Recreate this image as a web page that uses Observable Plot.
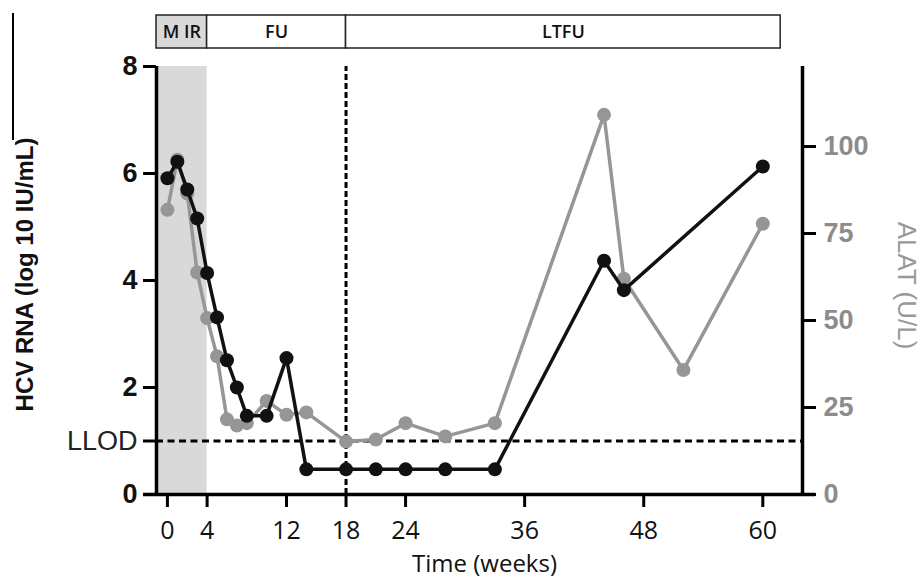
<!DOCTYPE html>
<html>
<head>
<meta charset="utf-8">
<script src="https://cdn.jsdelivr.net/npm/d3@7"></script>
<script src="https://cdn.jsdelivr.net/npm/@observablehq/plot@0.6"></script>
<style>
  html, body { margin: 0; padding: 0; background: #fff; }
  #wrap { position: relative; width: 922px; height: 579px; overflow: hidden; }
  #wrap svg { display: block; }
  #stray { position: absolute; left: 12px; top: 13px; width: 1.5px; height: 127px; background: #000; }
</style>
</head>
<body>
<div id="wrap"><div id="stray"></div></div>
<script>
// ---- data ----
const phaseNames = ["M IR", "FU", "LTFU"];
const phaseStart = [-1.1, 4, 18];
const phaseEnd = [4, 18, 61.8];

const hcvWeeks = [0, 1, 2, 3, 4, 5, 6, 7, 8, 10, 12, 14, 18, 21, 24, 28, 33, 44, 46, 60];
const hcvValues = [5.91, 6.22, 5.70, 5.16, 4.14, 3.31, 2.51, 2.00, 1.47, 1.47, 2.55, 0.47, 0.47, 0.47, 0.47, 0.47, 0.47, 4.37, 3.82, 6.13];

const alatWeeks = [0, 1, 2, 3, 4, 5, 6, 7, 8, 10, 12, 14, 18, 21, 24, 28, 33, 44, 46, 52, 60];
const alatValues = [81.8, 96.2, 86.5, 63.8, 50.7, 39.7, 21.6, 19.8, 20.5, 26.9, 22.9, 23.6, 15.2, 15.8, 20.5, 16.7, 20.5, 109.1, 62.0, 35.8, 77.8];

const xTicks = [0, 4, 12, 18, 24, 36, 48, 60];
const yTicks = [0, 2, 4, 6, 8];
const llod = 1;
const llodLabel = "LLOD";
const alatTicks = [0, 25, 50, 75, 100];

const xDomain = [-1.1, 64];
const yDomain = [0, 8];
const alatTop = 123; // ALAT value level with the top of the left axis

// ---- derived tables ----
const phases = phaseNames.map((n, i) => ({name: n, start: phaseStart[i], end: phaseEnd[i]}));
const hcv = hcvWeeks.map((w, i) => ({week: w, v: hcvValues[i]}));
const k = yDomain[1] / alatTop;
const alat = alatWeeks.map((w, i) => ({week: w, v: alatValues[i] * k}));
const mir = phases[0];
const fuEnd = phases[1].end;

const W = 922, ML = 156, MR = 120;
const sans = "'Liberation Sans', Arial, sans-serif";
const human = "'Open Sans', 'Noto Sans', sans-serif";
const GRAY = "#969696";
const LABELGRAY = "#8c8c8c";

// ---- phase bar ----
const bar = Plot.plot({
  width: W, height: 50,
  marginLeft: ML, marginRight: MR, marginTop: 15, marginBottom: 2,
  x: {domain: xDomain, axis: null},
  y: {domain: [0, 1], axis: null},
  style: {overflow: "visible", background: "transparent"},
  marks: [
    Plot.rect(phases, {x1: "start", x2: "end", y1: 0, y2: 1,
      fill: (d, i) => i === 0 ? "#d9d9d9" : "#fff", stroke: "#222", strokeWidth: 1.5}),
    Plot.text(phases, {x: d => (d.start + d.end) / 2, y: 0.5, text: "name",
      fontFamily: human, fontSize: 18, fontWeight: 600, fill: "#111"})
  ]
});

// ---- main chart ----
const chart = Plot.plot({
  width: W, height: 529,
  marginLeft: ML, marginRight: MR, marginTop: 16, marginBottom: 85,
  x: {domain: xDomain},
  y: {domain: yDomain},
  style: {overflow: "visible", background: "transparent"},
  marks: [
    Plot.rect([mir], {x1: "start", x2: "end", y1: yDomain[0], y2: yDomain[1], fill: "#d9d9d9"}),
    Plot.ruleY([llod], {stroke: "#000", strokeWidth: 3, strokeDasharray: "7,4.5"}),
    Plot.ruleX([fuEnd], {y1: yDomain[0], y2: yDomain[1], stroke: "#000", strokeWidth: 3, strokeDasharray: "6,3"}),
    Plot.line(alat, {x: "week", y: "v", stroke: GRAY, strokeWidth: 3.5}),
    Plot.dot(alat, {x: "week", y: "v", r: 7, fill: GRAY}),
    Plot.line(hcv, {x: "week", y: "v", stroke: "#111", strokeWidth: 3.5}),
    Plot.dot(hcv, {x: "week", y: "v", r: 7, fill: "#111"}),
    // axis lines
    Plot.ruleX([xDomain[0]], {y1: yDomain[0], y2: yDomain[1], stroke: "#000", strokeWidth: 3.5}),
    Plot.ruleX([xDomain[1]], {y1: yDomain[0], y2: yDomain[1], stroke: "#000", strokeWidth: 3.5}),
    Plot.ruleY([yDomain[0]], {stroke: "#000", strokeWidth: 3.5, insetLeft: -13, insetRight: -13}),
    // axes
    Plot.axisX(xTicks, {tickSize: 13, tickPadding: 14, strokeWidth: 3, fontSize: 25, fontFamily: human,
      fill: "#111", tickFormat: d => String(d), label: null}),
    Plot.axisY(yTicks, {anchor: "left", tickSize: 13, tickPadding: 6, strokeWidth: 3, fontSize: 27,
      fontWeight: "bold", fontFamily: sans, fill: "#111", tickFormat: d => String(d), label: null}),
    Plot.axisY([llod], {anchor: "left", tickSize: 13, tickPadding: 6, strokeWidth: 3, fontSize: 27,
      fontFamily: sans, fill: "#222", tickFormat: () => llodLabel, label: null}),
    Plot.axisY(alatTicks.map(v => v * k), {anchor: "right", tickSize: 13, tickPadding: 8, strokeWidth: 3,
      stroke: "#000", fill: LABELGRAY, fontSize: 27, fontWeight: "bold", fontFamily: sans,
      tickFormat: d => String(Math.round(d / k)), label: null}),
    // titles
    Plot.text(["HCV RNA (log 10 IU/mL)"], {frameAnchor: "left", textAnchor: "middle", lineAnchor: "middle",
      rotate: -90, dx: -131, dy: -6,
      fontSize: 24, fontWeight: "bold", fontFamily: sans, fill: "#111"}),
    Plot.text(["ALAT (U/L)"], {frameAnchor: "right", textAnchor: "middle", lineAnchor: "middle",
      rotate: 90, dx: 104, dy: 5,
      fontSize: 26, fontFamily: sans, fill: "#999"}),
    Plot.text(["Time (weeks)"], {frameAnchor: "bottom", textAnchor: "middle", lineAnchor: "middle",
      dx: 5, dy: 70,
      fontSize: 24, fontFamily: human, fill: "#111"})
  ]
});

const wrap = document.getElementById("wrap");
wrap.appendChild(bar);
wrap.appendChild(chart);
</script>
</body>
</html>
